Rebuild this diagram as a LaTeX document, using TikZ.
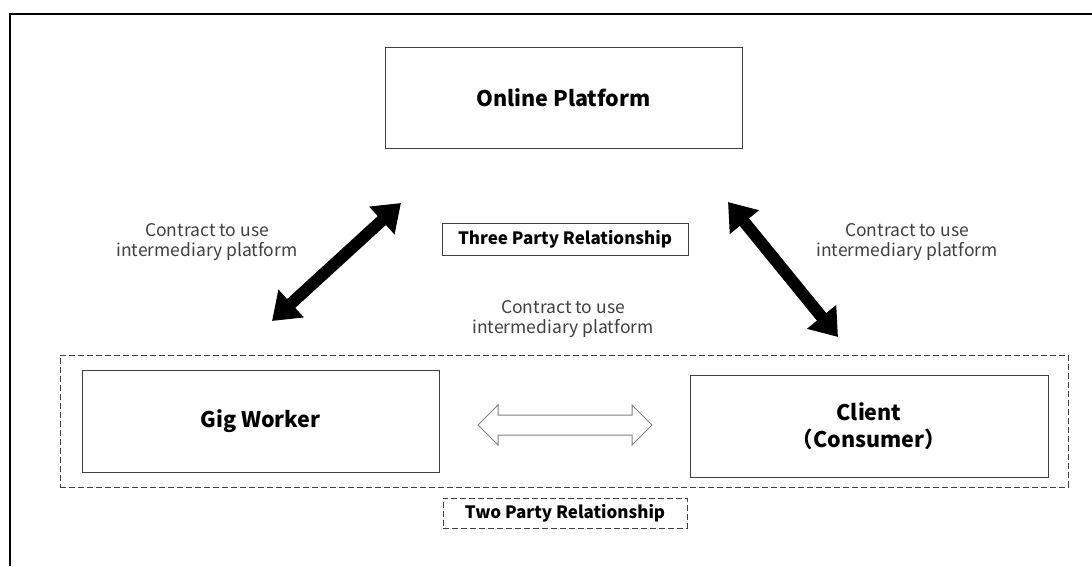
\documentclass[tikz,border=0pt]{standalone}
\usepackage{fontspec}
\setmainfont{Noto Sans CJK JP}
\usetikzlibrary{arrows.meta}
\definecolor{boxline}{HTML}{404040}
\definecolor{labelgray}{HTML}{404040}
\tikzset{
  entity/.style={draw=boxline, line width=1pt, fill=white, inner sep=0pt, align=center, font=\bfseries\fontsize{21.5}{27}\selectfont, text=black},
  tag/.style={draw=boxline, line width=0.9pt, inner sep=0pt, font=\bfseries\fontsize{17}{20}\selectfont, text=black},
  dashtag/.style={tag, dash pattern=on 6pt off 3pt},
  note/.style={align=center, font=\fontsize{17.5}{20}\selectfont, text=labelgray},
  bigarrow/.style={line width=12pt, black, {Triangle[length=26pt,width=36pt]}-{Triangle[length=26pt,width=36pt]}},
  hollow/.style={draw=gray, line width=1pt, fill=white, line join=miter}
}
\begin{document}
\begin{tikzpicture}[x=1pt,y=-1pt]
\useasboundingbox (0,0) rectangle (1092,566);
\fill[white] (0,0) rectangle (1092,566);
% outer frame (only top and left visible)
\draw[line width=1.6pt, black] (10,566) -- (10,14) -- (1092,14);

% two-party dashed region
\node[draw=boxline, line width=0.9pt, dash pattern=on 6pt off 3pt, minimum width=1008pt, minimum height=132pt, inner sep=0pt] (two) at (564,421) {};

\node[entity, minimum width=357pt, minimum height=101pt] (op) at (563.5,97.5) {Online Platform};
\node[entity, minimum width=357pt, minimum height=102pt] (gw) at (260.5,421) {Gig Worker};
\node[entity, minimum width=358pt, minimum height=102pt] (cl) at (869,426) {Client\\（Consumer）};

\node[tag, minimum width=246pt, minimum height=32pt] (three) at (565,239) {Three Party Relationship};
\node[dashtag, minimum width=244pt, minimum height=30pt] (twotag) at (565,513) {Two Party Relationship};

\node[note] (nl) at (207,242) {Contract to use\\intermediary platform};
\node[note] (nr) at (907,242) {Contract to use\\intermediary platform};
\node[note] (nm) at (563,319) {Contract to use\\intermediary platform};

% arrow end points
\coordinate (la) at (401,203);
\coordinate (lb) at (272,321);
\coordinate (ra) at (728,202);
\coordinate (rb) at (838,337);
\draw[bigarrow] (la) -- (lb);
\draw[bigarrow] (ra) -- (rb);

% hollow double arrow between gig worker and client
\coordinate (hl) at (478,425);
\coordinate (hr) at (652,425);
\draw[hollow] (hl) -- ++(20,-20) -- ++(0,10) -- ++(134,0) -- ++(0,-10) -- (hr)
  -- ++(-20,20) -- ++(0,-10) -- ++(-134,0) -- ++(0,10) -- cycle;
\end{tikzpicture}
\end{document}
